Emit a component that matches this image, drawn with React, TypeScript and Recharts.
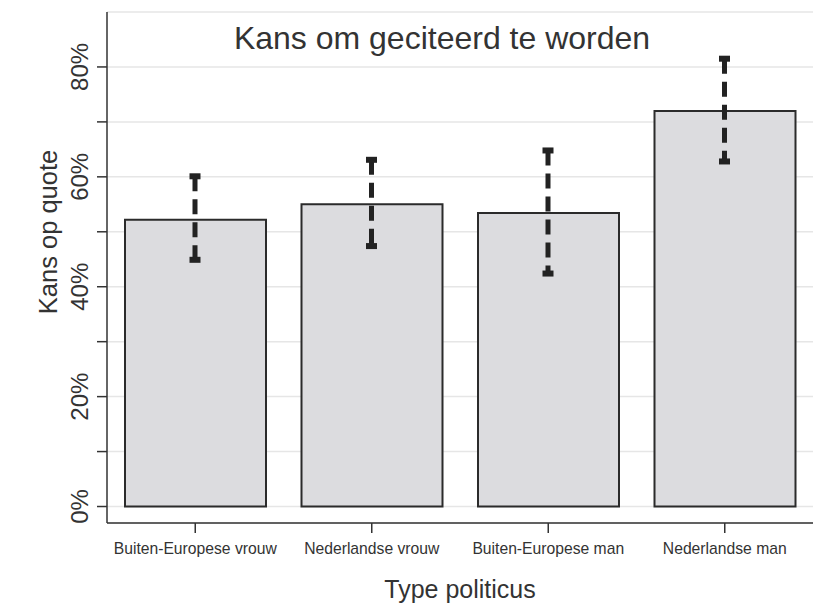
import React from 'react';
import { ComposedChart, Bar, XAxis, YAxis, CartesianGrid, Customized } from 'recharts';

const categories = ['Buiten-Europese vrouw', 'Nederlandse vrouw', 'Buiten-Europese man', 'Nederlandse man'];
const values = [52.2, 55.0, 53.4, 72.0];
const ciLow = [44.9, 47.4, 42.4, 62.8];
const ciHigh = [60.1, 63.1, 64.8, 81.5];
const yTicks = [0, 10, 20, 30, 40, 50, 60, 70, 80];
const yLabeled = [0, 20, 40, 60, 80];

const data = categories.map((name, i) => ({ name, value: values[i], lo: ciLow[i], hi: ciHigh[i] }));

const FONT = "Arial, 'Liberation Sans', Helvetica, sans-serif";
const TEXT = '#333333';

const YTick = (props: any) => {
  const { x, y, payload } = props;
  if (!yLabeled.includes(payload.value)) return <g />;
  return (
    <text
      transform={`translate(${x - 7},${y}) rotate(-90)`}
      textAnchor="middle"
      fontSize={24}
      fontFamily={FONT}
      fill={TEXT}
    >
      {payload.value}%
    </text>
  );
};

const CiShape = (props: any) => {
  const { x, y, width, height } = props;
  if (x == null || y == null) return <g />;
  const cx = x + width / 2;
  const top = y;
  const bottom = y + height;
  return (
    <g>
      <line x1={cx} x2={cx} y1={top} y2={bottom} stroke="#222" strokeWidth={5} strokeDasharray="15 8" />
      <rect x={cx - 5.5} y={top - 3} width={11} height={6} fill="#222" />
      <rect x={cx - 5.5} y={bottom - 3} width={11} height={6} fill="#222" />
    </g>
  );
};

const Texts = () => (
  <g fontFamily={FONT} fill={TEXT}>
    <text x={442} y={49} textAnchor="middle" fontSize={32}>
      Kans om geciteerd te worden
    </text>
    <text transform="translate(57,232) rotate(-90)" textAnchor="middle" fontSize={25.5}>
      Kans op quote
    </text>
    <text x={460} y={598} textAnchor="middle" fontSize={25}>
      Type politicus
    </text>
  </g>
);

export default function App() {
  return (
    <div style={{ position: 'absolute', left: 0, top: 0, width: 826, height: 608, background: '#fff' }}>
      <ComposedChart
        width={826}
        height={608}
        data={data}
        margin={{ top: 12, right: 13, left: 0, bottom: 0 }}
      >
        <CartesianGrid horizontal vertical={false} stroke="#e6e6e6" strokeWidth={1.5} />
        <XAxis
          dataKey="name"
          type="category"
          interval={0}
          height={85}
          tickSize={10}
          tickMargin={10}
          axisLine={{ stroke: '#333', strokeWidth: 1.5 }}
          tickLine={{ stroke: '#333', strokeWidth: 1.5 }}
          tick={{ fontSize: 15.7, fill: TEXT, fontFamily: FONT }}
        />
        <XAxis dataKey="name" type="category" xAxisId="ci" hide />
        <YAxis
          type="number"
          domain={[-3, 90]}
          allowDataOverflow
          ticks={yTicks}
          interval={0}
          width={107}
          tickSize={10}
          axisLine={{ stroke: '#333', strokeWidth: 1.5 }}
          tickLine={{ stroke: '#333', strokeWidth: 1.5 }}
          tick={<YTick />}
        />
        <Bar dataKey="value" barSize={141} fill="#dcdcdf" stroke="#2b2b2b" strokeWidth={2} isAnimationActive={false} />
        <Bar
          dataKey={(d: any) => [d.lo, d.hi]}
          xAxisId="ci"
          barSize={20}
          shape={<CiShape />}
          isAnimationActive={false}
        />
        <Customized component={Texts} />
      </ComposedChart>
    </div>
  );
}
